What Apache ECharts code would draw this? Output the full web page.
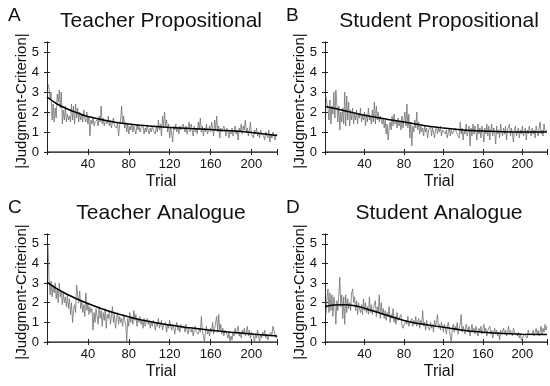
<!DOCTYPE html>
<html>
<head>
<meta charset="utf-8">
<script src="https://cdn.jsdelivr.net/npm/echarts@6/dist/echarts.min.js"></script>
<style>
  html, body { margin: 0; padding: 0; background: #ffffff; }
  #chart { width: 550px; height: 386px; }
</style>
</head>
<body>
<div id="chart"></div>
<script>
// trial-by-trial |judgment - criterion| (trials 1..225)
const teacherProp = [
  3.4, 3.2, 2.6, 3.0, 1.6, 2.4, 1.5, 2.2, 1.7, 2.9, 2.5, 3.1, 2.2, 3.0, 1.4,
  2.1, 1.6, 2.3, 1.5, 1.9, 1.6, 1.8, 1.5, 2.4, 1.6, 2.3, 1.4, 2.4, 1.7, 2.2,
  1.5, 2.0, 1.6, 1.9, 1.5, 2.1, 1.7, 1.5, 2.0, 1.4, 1.8, 0.8, 1.6, 1.4, 1.7,
  1.3, 1.5, 1.4, 1.6, 1.3, 1.8, 1.5, 2.3, 1.4, 1.7, 1.3, 1.6, 1.5, 1.4, 1.8,
  1.3, 1.6, 1.2, 1.5, 1.7, 1.3, 1.4, 1.2, 1.5, 0.8, 1.3, 1.6, 2.3, 1.4, 1.8,
  1.2, 1.5, 1.0, 1.4, 0.9, 1.3, 1.1, 1.4, 1.0, 1.3, 1.2, 0.9, 1.4, 1.1, 1.3,
  1.0, 1.2, 1.1, 1.3, 0.9, 1.2, 1.0, 1.3, 1.1, 0.9, 1.2, 1.0, 1.3, 1.1, 1.2,
  0.9, 1.3, 1.0, 1.6, 1.1, 1.4, 0.8, 1.8, 1.2, 2.0, 1.3, 1.6, 1.0, 1.4, 0.7,
  1.2, 0.9, 0.5, 1.3, 1.1, 1.4, 1.0, 1.2, 0.9, 1.3, 1.1, 1.0, 1.4, 1.2, 1.0,
  1.3, 0.9, 1.2, 1.5, 1.0, 1.4, 1.1, 0.8, 1.3, 1.0, 1.2, 0.9, 1.5, 1.1, 1.7,
  1.0, 1.3, 0.8, 1.2, 1.0, 1.4, 0.9, 1.1, 1.3, 1.0, 1.5, 1.2, 0.8, 1.6, 1.1,
  1.8, 1.0, 1.3, 0.7, 1.2, 1.0, 0.9, 1.3, 1.1, 0.8, 1.2, 1.0, 0.7, 1.1, 0.9,
  1.2, 0.8, 1.0, 1.3, 0.9, 1.1, 0.6, 1.2, 1.0, 1.4, 0.9, 1.3, 1.1, 1.6, 1.0,
  1.2, 0.8, 1.1, 1.5, 0.9, 1.0, 0.7, 1.1, 0.9, 1.2, 0.8, 1.0, 0.7, 1.1, 0.9,
  1.0, 0.8, 0.6, 1.0, 0.9, 0.7, 1.1, 0.5, 0.9, 0.7, 1.0, 0.8, 0.6, 0.9, 0.8
];
const studentProp = [
  2.8, 2.4, 2.2, 1.6, 2.6, 1.4, 2.3, 1.9, 3.0, 1.7, 3.1, 2.4, 1.5, 2.3, 1.1,
  2.0, 1.5, 2.2, 1.4, 3.0, 1.3, 2.8, 1.6, 2.5, 1.3, 2.1, 1.6, 2.2, 1.4, 1.9,
  1.6, 2.1, 1.4, 1.9, 1.7, 2.2, 1.5, 1.8, 1.6, 2.0, 1.3, 1.9, 1.5, 2.2, 1.6,
  1.8, 1.4, 2.1, 1.5, 2.5, 1.4, 2.3, 1.6, 2.0, 1.5, 1.8, 1.6, 1.4, 1.7, 1.2,
  1.6, 0.9, 1.4, 0.6, 1.2, 1.5, 1.1, 1.8, 1.3, 1.9, 1.4, 1.6, 1.2, 1.7, 1.3,
  1.5, 1.1, 1.8, 1.2, 1.6, 2.0, 1.3, 2.4, 1.2, 1.9, 0.7, 1.5, 0.3, 1.3, 1.0,
  1.6, 1.2, 2.0, 1.1, 1.5, 0.9, 1.3, 1.0, 1.2, 0.8, 1.3, 1.0, 1.2, 0.7, 1.1,
  1.0, 1.3, 0.8, 1.2, 1.0, 0.7, 1.1, 1.3, 0.9, 1.2, 1.0, 1.3, 0.8, 1.1, 1.0,
  1.2, 0.9, 1.1, 0.7, 1.0, 1.2, 0.8, 1.1, 0.9, 1.0, 0.8, 1.2, 1.0, 0.9, 1.1,
  0.7, 1.5, 0.9, 1.2, 0.6, 1.1, 0.9, 1.4, 0.8, 1.0, 1.3, 0.3, 1.2, 0.8, 1.4,
  0.9, 1.3, 1.0, 0.6, 1.4, 0.9, 1.2, 0.7, 1.3, 1.0, 0.5, 1.2, 0.9, 1.4, 0.8,
  1.3, 0.6, 1.1, 1.4, 0.8, 1.2, 1.0, 0.4, 1.3, 0.9, 1.1, 0.7, 1.4, 1.0, 0.8,
  1.2, 0.9, 1.3, 0.6, 1.1, 1.0, 1.4, 0.8, 1.2, 0.9, 0.5, 1.1, 1.3, 0.8, 1.0,
  1.2, 0.7, 1.1, 0.9, 1.3, 0.8, 1.0, 1.2, 0.6, 1.1, 0.9, 1.3, 1.0, 0.8, 1.2,
  0.9, 1.1, 0.7, 1.3, 1.0, 0.8, 1.2, 1.5, 0.9, 1.1, 0.8, 1.4, 1.0, 0.9, 1.1
];
const teacherAna = [
  4.9, 3.2, 2.4, 3.1, 2.3, 2.9, 2.5, 3.0, 2.2, 2.7, 2.0, 3.0, 2.3, 2.6, 1.9,
  2.5, 2.0, 2.3, 1.8, 2.4, 1.7, 2.2, 1.4, 2.0, 1.0, 1.6, 1.9, 1.5, 2.9, 2.4,
  2.0, 2.6, 1.7, 2.1, 1.5, 1.9, 1.3, 2.5, 1.6, 2.0, 1.4, 1.8, 1.5, 1.7, 0.6,
  1.5, 1.0, 1.7, 1.3, 0.9, 1.8, 1.2, 1.6, 0.8, 1.5, 1.1, 1.7, 0.7, 1.4, 1.2,
  1.6, 0.9, 1.3, 1.8, 1.0, 1.4, 0.7, 1.2, 1.5, 0.9, 1.3, 1.0, 1.2, 0.8, 1.4,
  1.1, 0.9, 0.0, 1.2, 0.8, 1.5, 1.0, 1.3, 0.9, 1.6, 1.1, 1.4, 0.8, 1.2, 1.0,
  1.3, 0.9, 1.1, 0.7, 1.2, 0.8, 1.0, 1.2, 0.9, 1.1, 0.7, 1.0, 0.8, 1.1, 0.9,
  0.6, 1.0, 0.8, 1.2, 0.7, 0.9, 1.1, 0.6, 0.9, 0.8, 1.0, 0.5, 0.9, 0.7, 1.1,
  0.8, 0.6, 0.9, 0.7, 0.4, 0.8, 1.0, 0.6, 0.8, 0.5, 0.9, 0.7, 0.6, 0.8, 0.5,
  0.9, 0.6, 0.4, 0.7, 0.8, 0.5, 0.7, 0.3, 0.6, 0.8, 0.5, 0.6, 0.4, 0.7, 0.5,
  1.3, 0.6, 0.3, 0.0, 0.5, 0.8, 0.4, 0.6, 0.3, 0.7, 0.5, 1.0, 0.4, 0.7, 0.6,
  1.3, 0.5, 1.4, 0.6, 0.9, 0.4, 0.7, 0.3, 0.6, 0.5, 0.4, 0.2, 0.5, 0.0, 0.3,
  0.1, 0.5, 0.3, 0.7, 0.4, 0.6, 0.8, 0.3, 0.5, 0.2, 0.6, 0.4, 0.7, 0.3, 0.5,
  0.8, 0.3, 0.6, 0.2, 0.5, 0.4, 0.3, 0.0, 0.4, 0.2, 0.6, 0.3, 0.0, 0.4, 0.2,
  0.5, 0.3, 0.6, 0.2, 0.4, 0.1, 0.3, 0.2, 0.5, 0.3, 0.8, 0.6, 0.4, 0.2, 0.3
];
const studentAna = [
  1.4, 2.2, 2.7, 1.5, 2.5, 1.6, 2.4, 1.3, 2.3, 1.9, 0.9, 2.1, 1.6, 2.4, 3.3,
  1.8, 2.4, 1.2, 2.3, 0.9, 2.4, 1.5, 2.2, 1.7, 2.0, 1.6, 2.5, 2.7, 2.0, 2.3,
  1.6, 2.1, 1.4, 2.0, 1.7, 1.5, 1.9, 1.4, 2.2, 1.6, 2.0, 1.5, 1.8, 1.4, 2.3,
  1.5, 1.9, 1.4, 1.7, 1.6, 2.1, 1.3, 1.8, 1.5, 2.4, 1.2, 2.0, 1.4, 1.7, 1.2,
  1.6, 1.1, 1.5, 1.3, 1.8, 1.0, 1.4, 1.2, 1.7, 1.0, 1.3, 0.9, 1.5, 1.1, 1.2,
  1.0, 1.4, 0.9, 0.7, 0.6, 0.7, 1.1, 0.9, 1.3, 0.8, 1.0, 0.9, 1.2, 0.8, 1.1,
  0.9, 1.3, 0.8, 1.0, 1.2, 0.7, 1.1, 0.9, 1.6, 0.8, 1.0, 0.6, 1.1, 0.8, 0.9,
  0.6, 1.0, 0.7, 0.9, 0.5, 1.1, 0.8, 1.0, 1.4, 0.7, 0.9, 0.6, 1.0, 0.8, 0.5,
  0.9, 0.7, 0.4, 0.8, 1.0, 0.6, 0.3, 0.0, 0.7, 0.9, 0.5, 0.8, 0.6, 1.0, 0.4,
  0.7, 0.9, 1.4, 0.5, 0.8, 0.6, 0.4, 0.9, 0.7, 0.5, 0.8, 0.3, 0.6, 0.9, 0.5,
  0.7, 0.4, 0.8, 0.6, 0.3, 0.7, 0.5, 0.8, 0.4, 0.6, 0.9, 0.5, 0.7, 0.3, 0.6,
  0.5, 0.8, 0.4, 0.6, 0.2, 0.5, 0.7, 0.4, 0.6, 0.3, 0.5, 0.1, 0.6, 0.4, 0.5,
  0.7, 0.4, 0.6, 0.3, 0.5, 0.8, 0.4, 0.6, 0.5, 0.3, 0.7, 0.5, 0.4, 0.6, 0.3,
  0.5, 0.2, 0.4, 0.1, 0.0, 0.2, 0.4, 0.3, 0.5, 0.2, 0.6, 0.4, 0.3, 0.5, 0.4,
  0.6, 0.3, 0.5, 0.7, 0.4, 0.6, 0.3, 0.5, 0.8, 0.4, 0.7, 0.5, 0.9, 0.6, 0.8
];

// fitted curves, read at these trials
const fitTrials = [0, 10, 20, 30, 40, 60, 80, 100, 120, 140, 160, 180, 200, 225];
const teacherPropFit = [2.75, 2.4, 2.15, 1.95, 1.78, 1.55, 1.4, 1.3, 1.23, 1.17, 1.12, 1.06, 0.98, 0.82];
const studentPropFit = [2.28, 2.18, 2.06, 1.95, 1.84, 1.66, 1.5, 1.33, 1.2, 1.1, 1.05, 1.01, 1.0, 1.0];
const teacherAnaFit = [3.05, 2.7, 2.42, 2.18, 1.96, 1.58, 1.28, 1.04, 0.86, 0.72, 0.6, 0.5, 0.41, 0.3];
const studentAnaFit = [1.8, 1.88, 1.9, 1.85, 1.72, 1.4, 1.1, 0.9, 0.75, 0.6, 0.5, 0.43, 0.4, 0.38];

const panelTitles = ['Teacher Propositional', 'Student Propositional', 'Teacher Analogue', 'Student Analogue'];
const panelLetters = ['A', 'B', 'C', 'D'];
const xTicks = [40, 80, 120, 160, 200];
const yTicks = [0, 1, 2, 3, 4, 5];

const rawData = [teacherProp, studentProp, teacherAna, studentAna];
const fitData = [teacherPropFit, studentPropFit, teacherAnaFit, studentAnaFit];

const grids = [
  {left: 47, top: 42, width: 230, height: 110},
  {left: 325, top: 42, width: 230, height: 110},
  {left: 47, top: 234, width: 230, height: 108},
  {left: 325, top: 234, width: 230, height: 108}
];

const font = 'Liberation Sans, Arial, sans-serif';
const axisColor = '#222';

const xAxis = [];
const yAxis = [];
const series = [];
const graphic = [];

grids.forEach((g, i) => {
  xAxis.push({
    gridIndex: i, type: 'value', position: 'bottom', min: 0, max: 225, interval: 40,
    axisLine: {lineStyle: {color: axisColor, width: 1}},
    axisTick: {inside: true, length: 3, lineStyle: {color: axisColor}},
    axisLabel: {
      margin: 6, color: '#111', fontSize: 13, fontFamily: font,
      formatter: v => xTicks.includes(v) ? String(v) : ''
    },
    splitLine: {show: false}
  });
  xAxis.push({
    gridIndex: i, type: 'value', position: 'top', min: 0, max: 225, interval: 40,
    axisLine: {lineStyle: {color: '#555', width: 1.5}},
    axisTick: {inside: true, length: 3, lineStyle: {color: axisColor}},
    axisLabel: {show: false},
    splitLine: {show: false}
  });
  yAxis.push({
    gridIndex: i, type: 'value', position: 'left', min: 0, max: 5.5, interval: 1,
    axisLine: {show: true, lineStyle: {color: axisColor, width: 1}},
    axisTick: {show: true, inside: true, length: 3, lineStyle: {color: axisColor}},
    axisLabel: {
      margin: 8, color: '#111', fontSize: 13, fontFamily: font,
      formatter: v => yTicks.includes(v) ? String(v) : ''
    },
    splitLine: {show: false}
  });
  yAxis.push({
    gridIndex: i, type: 'value', position: 'right', min: 0, max: 5.5, interval: 1,
    axisLine: {show: true, lineStyle: {color: axisColor, width: 1}},
    axisTick: {show: true, inside: true, length: 3, lineStyle: {color: axisColor}},
    axisLabel: {show: false},
    splitLine: {show: false}
  });

  series.push({
    type: 'line', xAxisIndex: i * 2, yAxisIndex: i * 2,
    data: rawData[i].map((v, k) => [k + 1, v]),
    showSymbol: false, silent: true,
    lineStyle: {color: '#707070', width: 0.8}
  });
  series.push({
    type: 'line', xAxisIndex: i * 2, yAxisIndex: i * 2,
    data: fitTrials.map((t, k) => [t, fitData[i][k]]),
    showSymbol: false, silent: true, smooth: true,
    lineStyle: {color: '#000', width: 1.5}
  });

  const cx = g.left + 114;
  const top = g.top;
  graphic.push({
    type: 'text', x: cx, y: top - 21,
    style: {text: panelTitles[i], font: '21px ' + font, fill: '#111', textAlign: 'center', textVerticalAlign: 'middle'}
  });
  graphic.push({
    type: 'text', x: g.left - 39, y: top - 26,
    style: {text: panelLetters[i], font: '19px ' + font, fill: '#111', textAlign: 'left', textVerticalAlign: 'middle'}
  });
  graphic.push({
    type: 'text', x: g.left - 25, y: top + g.height / 2 + 4, rotation: Math.PI / 2,
    style: {text: '|Judgment-Criterion|', font: '15px ' + font, fill: '#111', textAlign: 'center', textVerticalAlign: 'middle'}
  });
  graphic.push({
    type: 'text', x: cx, y: top + g.height + 30,
    style: {text: 'Trial', font: '16px ' + font, fill: '#111', textAlign: 'center', textVerticalAlign: 'middle'}
  });
});

const chart = echarts.init(document.getElementById('chart'), null, {renderer: 'canvas'});
chart.setOption({
  animation: false,
  backgroundColor: '#ffffff',
  grid: grids,
  xAxis: xAxis,
  yAxis: yAxis,
  series: series,
  graphic: graphic
});
</script>
</body>
</html>
